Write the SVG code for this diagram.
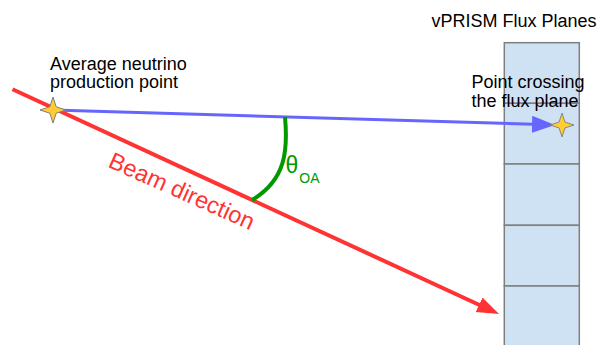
<svg xmlns="http://www.w3.org/2000/svg" width="599" height="345" viewBox="0 0 599 345">
  <style>
    text { font-family: "Liberation Sans", Arial, sans-serif; }
    .lbl { font-size: 18px; fill: #000; }
    .cell { fill: #cfe2f3; stroke: #7f7f7f; stroke-width: 1.5; }
    .star { fill: #ffcc33; stroke: #808080; stroke-width: 1; }
  </style>
  <defs>
    <marker id="redHead" markerUnits="userSpaceOnUse" markerWidth="24" markerHeight="18" refX="1" refY="8" orient="auto">
      <path d="M0,0 L22,8 L0,16 Z" fill="#ff3333"/>
    </marker>
    <marker id="blueHead" markerUnits="userSpaceOnUse" markerWidth="25" markerHeight="19" refX="1" refY="8.5" orient="auto">
      <path d="M0,0 L23,8.5 L0,17 Z" fill="#6666ff"/>
    </marker>
    <path id="star4" class="star" d="M0,-13 L3.2,-3.2 L13,0 L3.2,3.2 L0,13 L-3.2,3.2 L-13,0 L-3.2,-3.2 Z"/>
  </defs>
  <rect width="599" height="345" fill="#fff"/>

  <g id="flux-planes">
    <rect class="cell" x="504.3" y="42.7" width="75" height="60.6"/>
    <rect class="cell" x="504.3" y="103.3" width="75" height="60.7"/>
    <rect class="cell" x="504.3" y="164" width="75" height="61.3"/>
    <rect class="cell" x="504.3" y="225.3" width="75" height="60.7"/>
    <rect class="cell" x="504.3" y="286" width="75" height="62"/>
    <text class="lbl" x="596.5" y="26.7" text-anchor="end">vPRISM Flux Planes</text>
  </g>

  <g id="connectors">
    <line id="beam" x1="12.5" y1="89.3" x2="480" y2="305.2" stroke="#ff3333" stroke-width="4" marker-end="url(#redHead)"/>
    <line id="ray" x1="53" y1="110" x2="533" y2="124.3" stroke="#6666ff" stroke-width="3" marker-end="url(#blueHead)"/>
    <path id="angle-arc" d="M285,117 C288,150 286,180 252,200" fill="none" stroke="#009900" stroke-width="4"/>
  </g>

  <g id="production-point">
    <use href="#star4" x="53" y="110"/>
    <text class="lbl" x="50" y="70">Average neutrino</text>
    <text class="lbl" x="50" y="88.4">production point</text>
  </g>

  <g id="crossing-point">
    <use href="#star4" x="562" y="125" transform="translate(562 125) scale(0.92) translate(-562 -125)"/>
    <text class="lbl" x="471.5" y="88.3">Point crossing</text>
    <text class="lbl" x="471.5" y="106.7">the flux plane</text>
  </g>

  <g id="beam-label">
    <text x="107" y="166.5" font-size="23.5" fill="#ff3333" transform="rotate(24 107 166.5)">Beam direction</text>
  </g>

  <g id="angle-label">
    <text x="285.5" y="173.3" font-size="23" fill="#009900">θ</text>
    <text x="299.3" y="182.7" font-size="14" fill="#009900">OA</text>
  </g>
</svg>
